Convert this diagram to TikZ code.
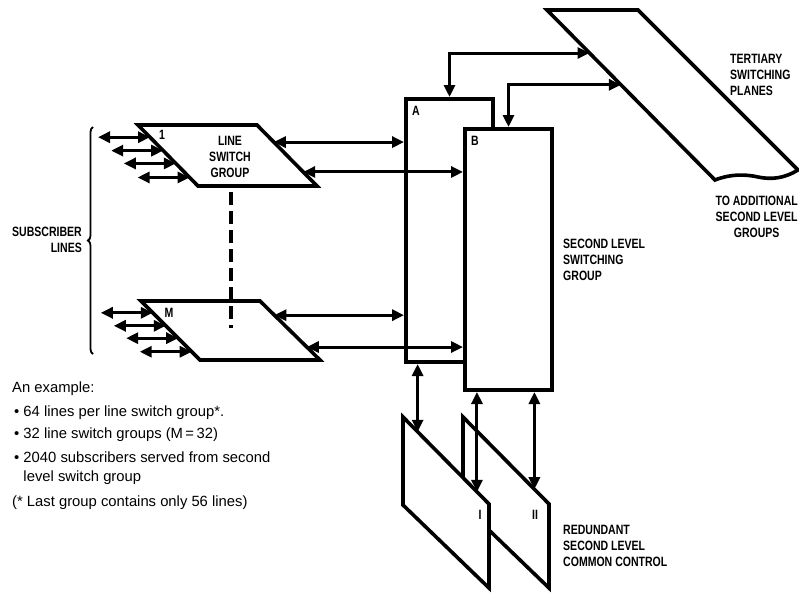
\documentclass[tikz,border=0pt]{standalone}
\usepackage{fontspec}
\setmainfont{Liberation Sans}
\newfontfamily\narrowbf[FakeStretch=0.78]{Liberation Sans}
\usetikzlibrary{arrows.meta, positioning, calc, decorations.pathreplacing}

\begin{document}
\begin{tikzpicture}[x=1pt, y=-1pt, >={Triangle[length=12pt 0 0,width=11pt 0 0]}]

% ------------------- styles -------------------
\tikzstyle{blk} = [draw, line width=4pt, fill=white, inner sep=0pt, minimum width=87pt]
\tikzstyle{plane} = [draw, line width=3.6pt, fill=white, line join=miter]
\tikzstyle{link} = [<->, line width=3pt]
\tikzstyle{lbl} = [font=\narrowbf\bfseries\fontsize{13.5}{16}\selectfont, inner sep=0pt]
\tikzstyle{tag} = [font=\narrowbf\bfseries\fontsize{13.5}{13.5}\selectfont, inner sep=0pt]

\useasboundingbox (0,0) rectangle (799,597);
\clip (0,0) rectangle (799,597);

% ------------------- line switch groups -------------------
\coordinate (g1a) at (138,125);
\coordinate (g1b) at (257,125);
\coordinate (g1c) at (317,186);
\coordinate (g1d) at (198,186);
\draw[plane] (g1a) -- (g1b) -- (g1c) -- (g1d) -- cycle;
\node[lbl, align=center] (g1txt) at (230,157) {LINE\\SWITCH\\GROUP};
\node[tag] (g1tag) at (162,135) {1};

\coordinate (gMa) at (141,301);
\coordinate (gMb) at (260,301);
\coordinate (gMc) at (320,360);
\coordinate (gMd) at (200,360);
\draw[plane] (gMa) -- (gMb) -- (gMc) -- (gMd) -- cycle;
\node[tag] (gMtag) at (169,313) {M};

% dashed line between group 1 and group M
\coordinate (d1) at (231,192);
\coordinate (d2) at (231,328);
\draw[line width=4pt, dash pattern=on 13pt off 6pt] (d1) -- (d2);

% ------------------- subscriber lines -------------------
\foreach \f in {0.2,0.42,0.63,0.86} {
  \draw[link] ($(g1a)!\f!(g1d)$) -- ++(-52,0);
  \draw[link] ($(gMa)!\f!(gMd)$) -- ++(-52,0);
}
\coordinate (br1) at (93,354);
\coordinate (br2) at (93,127);
\draw[decorate, decoration={brace, amplitude=5pt}, line width=1.8pt] (br1) -- (br2);
\node[lbl, align=right, anchor=east] (subs) at (82,240) {SUBSCRIBER\\LINES};

% ------------------- second level switching group -------------------
\node[blk, minimum height=263pt, anchor=north west] (A) at (404,97) {};
\node[blk, minimum height=261pt, anchor=north west] (B) at (463,127) {};
\node[tag] (Atag) at (416,111) {A};
\node[tag] (Btag) at (475,141) {B};
\node[lbl, align=left, anchor=west] (slsg) at (563,260) {SECOND LEVEL\\SWITCHING\\GROUP};

% links from the line switch groups
\coordinate (g1r1) at ($(g1b)!0.28!(g1c)$);
\coordinate (g1r2) at ($(g1b)!0.77!(g1c)$);
\coordinate (gMr1) at ($(gMb)!0.24!(gMc)$);
\coordinate (gMr2) at ($(gMb)!0.78!(gMc)$);
\draw[link] (g1r1) -- (g1r1 -| A.west);
\draw[link] (g1r2) -- (g1r2 -| B.west);
\draw[link] (gMr1) -- (gMr1 -| A.west);
\draw[link] (gMr2) -- (gMr2 -| B.west);

% ------------------- tertiary switching planes -------------------
\coordinate (t1) at (547,10);
\coordinate (t2) at (638,10);
\coordinate (t3) at (798,170);
\coordinate (t4) at (715,180);
\draw[plane] (t1) -- (t2) -- (t3) .. controls (785,178) and (772,180) .. (758,177)
  .. controls (745,174) and (730,174) .. (t4) -- cycle;
\node[lbl, align=left, anchor=west] (tsp) at (730,75) {TERTIARY\\SWITCHING\\PLANES};
\node[lbl, align=center, anchor=east] (tasl) at (798,217) {TO ADDITIONAL\\SECOND LEVEL\\GROUPS};

\coordinate (tp1) at ($(t1)!0.253!(t4)$);
\coordinate (tp2) at ($(t1)!0.44!(t4)$);
\draw[link] (A.north) |- (tp1);
\draw[link] (B.north) |- (tp2);

% ------------------- redundant common control -------------------
\coordinate (p2a) at (463,417);
\coordinate (p2b) at (549,504);
\coordinate (p2c) at (549,588);
\coordinate (p2d) at (463,505);
\draw[plane] (p2a) -- (p2b) -- (p2c) -- (p2d) -- cycle;
\coordinate (p1a) at (403,417);
\coordinate (p1b) at (489,504);
\coordinate (p1c) at (489,588);
\coordinate (p1d) at (403,505);
\draw[plane] (p1a) -- (p1b) -- (p1c) -- (p1d) -- cycle;
\node[tag] (p1tag) at (480,515) {I};
\node[tag] (p2tag) at (535,515) {II};
\node[lbl, align=left, anchor=west] (rscc) at (563,546) {REDUNDANT\\SECOND LEVEL\\COMMON CONTROL};

\coordinate (pa) at ($(p1a)!0.17!(p1b)$);
\coordinate (pb) at ($(p1a)!0.86!(p1b)$);
\coordinate (pc) at ($(p2a)!0.83!(p2b)$);
\draw[link] (pa |- A.south) -- (pa);
\draw[link] (pb |- B.south) -- (pb);
\draw[link] (pc |- B.south) -- (pc);

% ------------------- example note -------------------
\node[anchor=north west, align=left, inner sep=0pt, font=\fontsize{14.8}{19}\selectfont] (note) at (12,381.5)
  {An example:\\[5pt]
   \hspace{2pt}• 64 lines per line switch group*.\\[3pt]
   \hspace{2pt}• 32 line switch groups (M\,=\,32)\\[5pt]
   \hspace{2pt}• 2040 subscribers served from second\\
   \hspace{2pt}\phantom{• }level switch group\\[6pt]
   (* Last group contains only 56 lines)};

\end{tikzpicture}
\end{document}
